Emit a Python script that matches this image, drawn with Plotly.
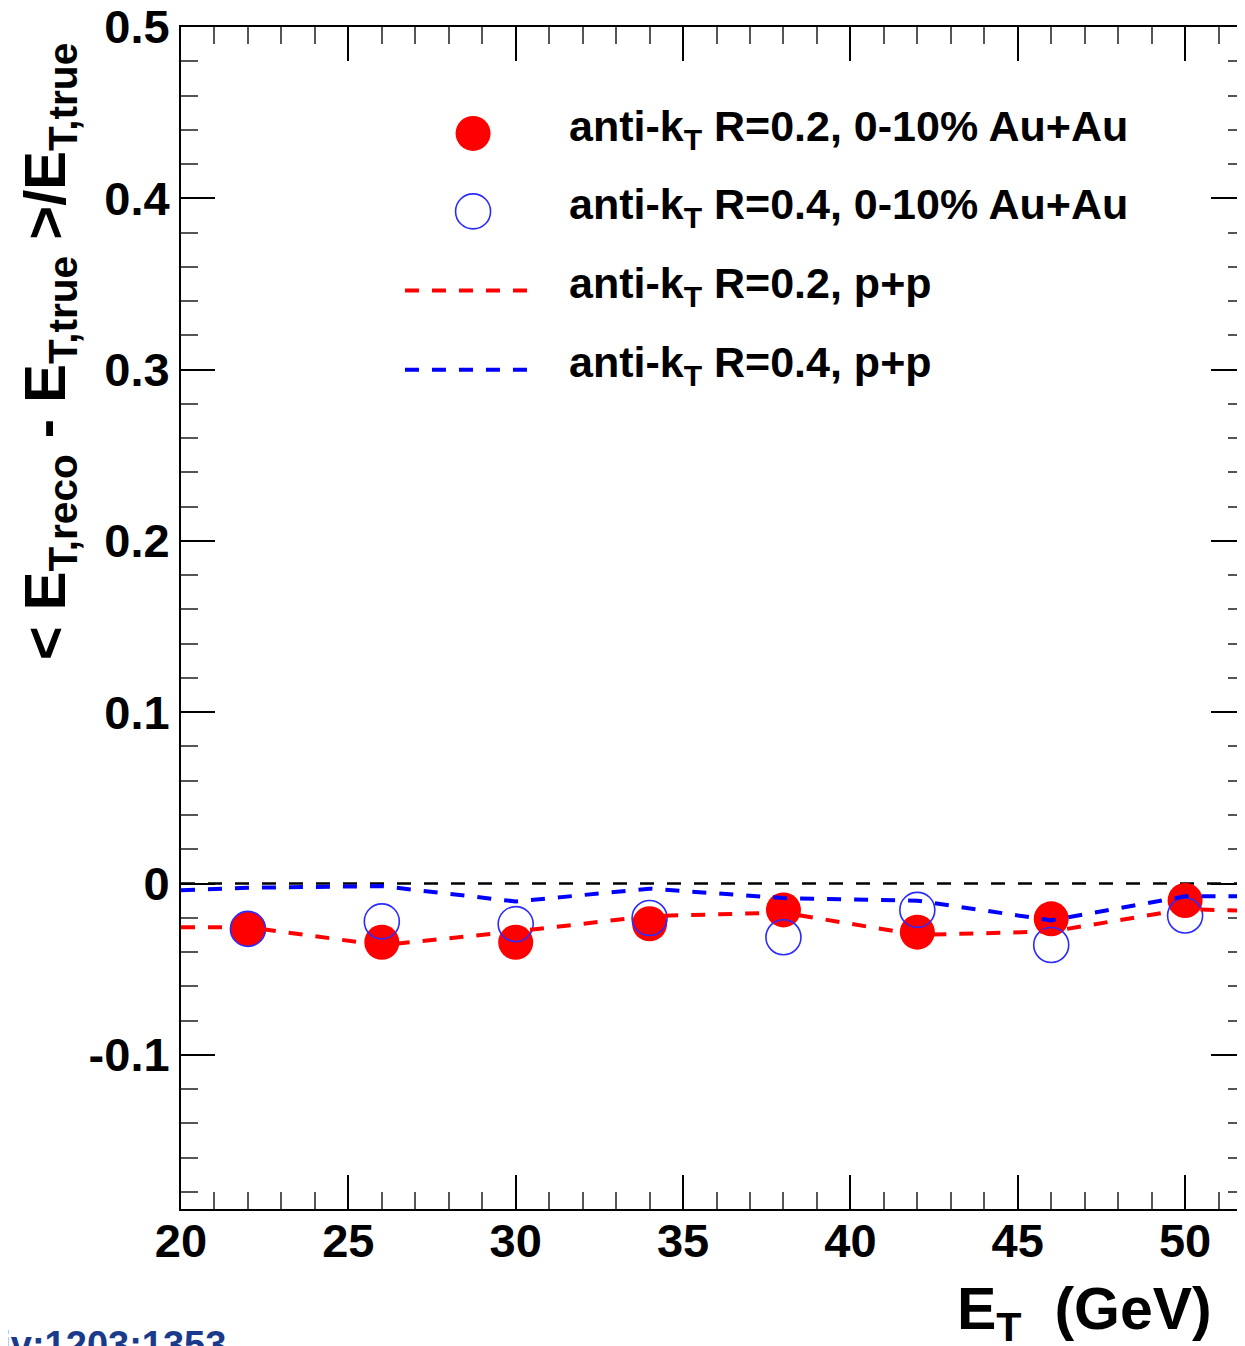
import plotly.graph_objects as go

# ---- data ----
et_bins = [22, 26, 30, 34, 38, 42, 46, 50]
auau_r02 = [-0.0265, -0.0343, -0.0343, -0.0235, -0.0154, -0.0284, -0.0206, -0.0099]
auau_r04 = [-0.0265, -0.0221, -0.0237, -0.0201, -0.0314, -0.0154, -0.0359, -0.0187]

pp_x = [20, 22, 26, 30, 34, 38, 42, 46, 50, 52]
pp_r02 = [-0.0255, -0.0255, -0.0360, -0.0280, -0.0190, -0.0170, -0.0300, -0.0280, -0.0150, -0.0160]
pp_r04 = [-0.0040, -0.0025, -0.0015, -0.0105, -0.0030, -0.0085, -0.0100, -0.0215, -0.0075, -0.0075]

x_tickvals = [20, 25, 30, 35, 40, 45, 50]
x_ticktext = ["20", "25", "30", "35", "40", "45", "50"]
y_tickvals = [-0.1, 0, 0.1, 0.2, 0.3, 0.4, 0.5]
y_ticktext = ["-0.1", "0", "0.1", "0.2", "0.3", "0.4", "0.5"]

names = [
    "anti-k<sub>T</sub> R=0.2, 0-10% Au+Au",
    "anti-k<sub>T</sub> R=0.4, 0-10% Au+Au",
    "anti-k<sub>T</sub> R=0.2, p+p",
    "anti-k<sub>T</sub> R=0.4, p+p",
]

FONT = "Liberation Sans, Arial, Helvetica, sans-serif"
RED = "#ff0000"
BLUE_M = "#2b2bff"
BLUE_L = "#0000ff"
DASH = "14px,13px"

fig = go.Figure()
fig.add_trace(go.Scatter(
    x=et_bins, y=auau_r02, mode="markers", name=names[0], showlegend=False,
    marker=dict(symbol="circle", size=35, color=RED, line=dict(width=0)),
))
fig.add_trace(go.Scatter(
    x=et_bins, y=auau_r04, mode="markers", name=names[1], showlegend=False,
    marker=dict(symbol="circle-open", size=35, color=BLUE_M, line=dict(width=1.6, color=BLUE_M)),
))
fig.add_trace(go.Scatter(
    x=pp_x, y=pp_r02, mode="lines", name=names[2], showlegend=False,
    line=dict(color=RED, width=4, dash=DASH),
))
fig.add_trace(go.Scatter(
    x=pp_x, y=pp_r04, mode="lines", name=names[3], showlegend=False,
    line=dict(color=BLUE_L, width=4, dash=DASH),
))

fig.add_hline(y=0, line=dict(color="black", width=2.5, dash=DASH), layer="below")

axis_common = dict(
    showgrid=False, zeroline=False, showline=True, linecolor="black", linewidth=2,
    mirror="allticks", ticks="inside", ticklen=34, tickwidth=2, tickcolor="black",
    tickfont=dict(family=FONT, size=47, color="black", weight="bold"),
    ticklabeloverflow="allow", automargin=False,
)

fig.update_xaxes(
    range=[20, 51.79], tickmode="array", tickvals=x_tickvals, ticktext=x_ticktext,
    minor=dict(dtick=1, tick0=20, ticks="inside", ticklen=17, tickwidth=2, tickcolor="#555555"),
    ticklabelstandoff=-10,
    **axis_common,
)
fig.update_yaxes(
    range=[-0.19, 0.5], tickmode="array", tickvals=y_tickvals, ticktext=y_ticktext,
    minor=dict(dtick=0.02, tick0=0, ticks="inside", ticklen=17, tickwidth=2, tickcolor="#555555"),
    **axis_common,
)

# ---- legend (drawn as glyph shapes + text annotations, ROOT style) ----
leg_glyph_x = 0.2745
leg_line_x0, leg_line_x1 = 0.2105, 0.326
leg_text_x = 0.3628
leg_rows_y = [0.910, 0.844, 0.777, 0.710]

shapes = [
    dict(type="circle", xref="paper", yref="paper", xsizemode="pixel", ysizemode="pixel",
         xanchor=leg_glyph_x, yanchor=leg_rows_y[0], x0=-17.5, x1=17.5, y0=-17.5, y1=17.5,
         fillcolor=RED, line=dict(width=0)),
    dict(type="circle", xref="paper", yref="paper", xsizemode="pixel", ysizemode="pixel",
         xanchor=leg_glyph_x, yanchor=leg_rows_y[1], x0=-17.5, x1=17.5, y0=-17.5, y1=17.5,
         fillcolor="rgba(0,0,0,0)", line=dict(width=1.6, color=BLUE_M)),
    dict(type="line", xref="paper", yref="paper", x0=leg_line_x0, x1=leg_line_x1,
         y0=leg_rows_y[2], y1=leg_rows_y[2], line=dict(color=RED, width=4, dash=DASH)),
    dict(type="line", xref="paper", yref="paper", x0=leg_line_x0, x1=leg_line_x1,
         y0=leg_rows_y[3], y1=leg_rows_y[3], line=dict(color=BLUE_L, width=4, dash=DASH)),
]
for s in shapes:
    fig.add_shape(**s)

annotations = []
for nm, yy in zip(names, leg_rows_y):
    annotations.append(dict(
        text=nm, xref="paper", yref="paper", x=leg_text_x, y=yy + 0.004,
        xanchor="left", yanchor="middle", showarrow=False,
        font=dict(family=FONT, size=43, color="black", weight="bold"),
    ))

annotations += [
    dict(
        text="E<sub>T</sub>\u00a0\u00a0(GeV)", xref="paper", yref="paper",
        x=0.9705, y=-0.088, xanchor="right", yanchor="middle", showarrow=False,
        font=dict(family=FONT, size=59, color="black", weight="bold"),
    ),
    dict(
        text="< E<sub>T,reco</sub> - E<sub>T,true</sub> >/E<sub>T,true</sub>",
        xref="paper", yref="paper", x=-0.1245, y=0.988, xanchor="center", yanchor="top",
        textangle=-90, showarrow=False,
        font=dict(family=FONT, size=58, color="black", weight="bold"),
    ),
    dict(
        text="arXiv:1203:1353", xref="paper", yref="paper",
        x=-0.229, y=-0.0956, xanchor="left", yanchor="top", showarrow=False,
        font=dict(family=FONT, size=38, color="#1a3a8c", weight="bold"),
    ),
]

# page has an 8px body margin; figure sized so the plot frame lands where the reference has it
fig.update_layout(
    width=1237, height=1338,
    margin=dict(l=173, r=0, t=19, b=137, autoexpand=False),
    paper_bgcolor="white", plot_bgcolor="white",
    font=dict(family=FONT, color="black"),
    showlegend=False,
    annotations=annotations,
)

fig.write_html("out.html")
